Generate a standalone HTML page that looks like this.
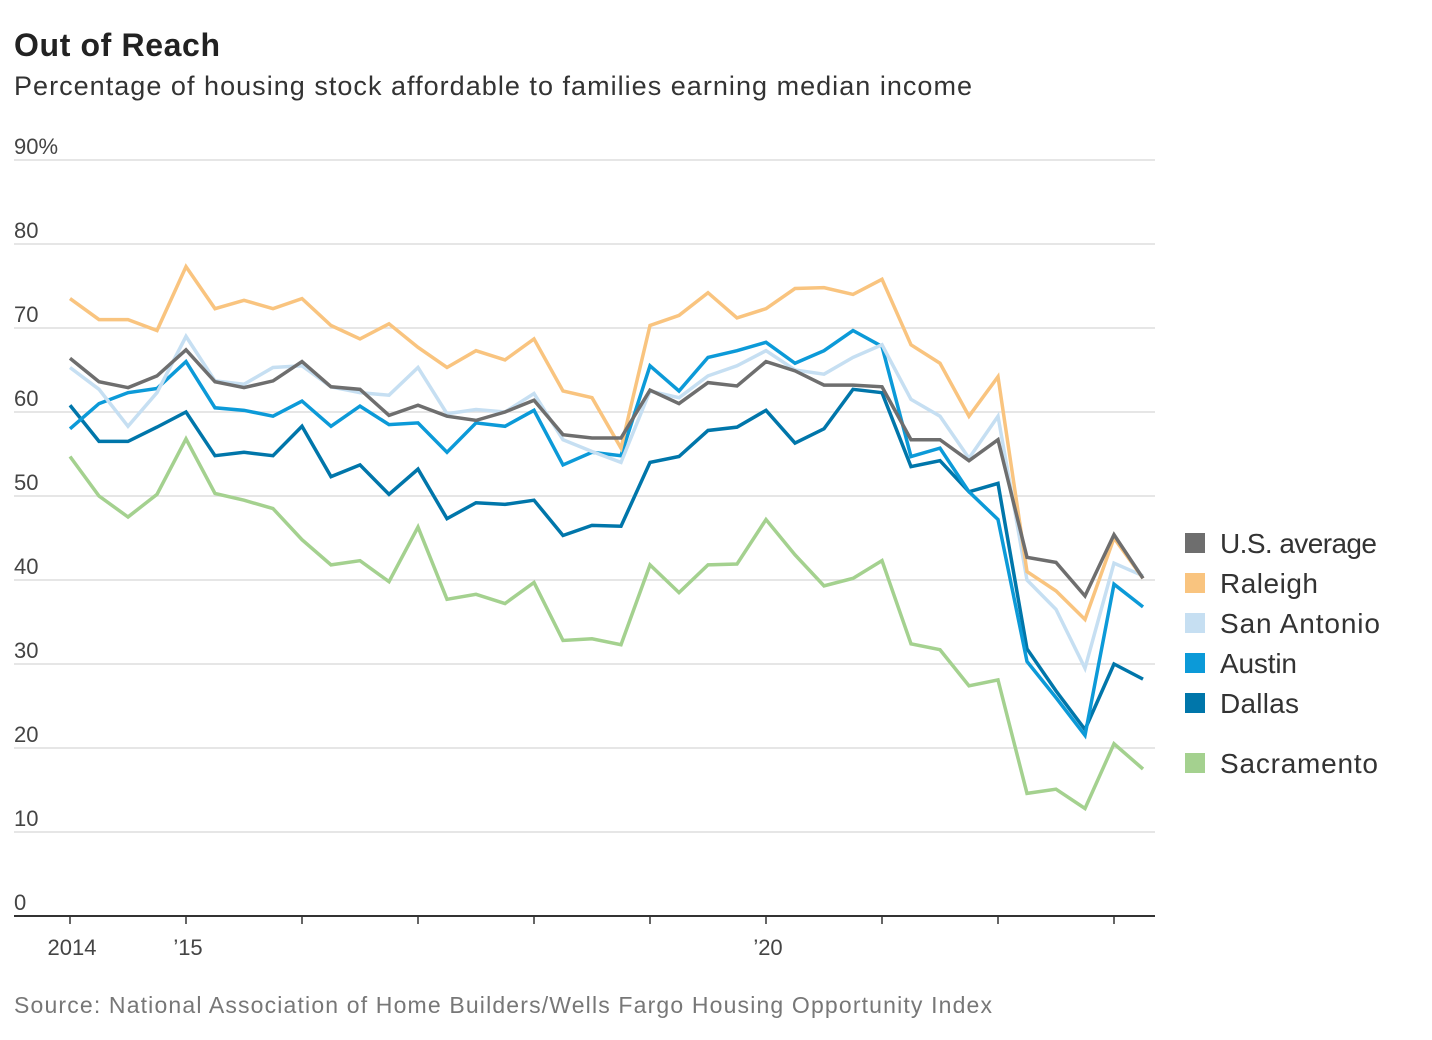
<!DOCTYPE html>
<html><head><meta charset="utf-8"><style>
body{margin:0;background:#fff;font-family:"Liberation Sans",sans-serif;}
svg{display:block}
</style></head><body>
<svg id="chart" width="1432" height="1040">
<text x="14" y="56" font-size="32" font-weight="bold" fill="#222" textLength="206">Out of Reach</text>
<text x="14" y="95" font-size="27" fill="#333" textLength="958">Percentage of housing stock affordable to families earning median income</text>
<text x="14" y="1013" font-size="23" fill="#777" textLength="978">Source: National Association of Home Builders/Wells Fargo Housing Opportunity Index</text>
<g id="grid"></g><g id="lines"></g><g id="legend"></g>
</svg>
<script>
const yTicks=[0,10,20,30,40,50,60,70,80,90];
const yTickLabels=["0","10","20","30","40","50","60","70","80","90%"];
const xTickYears=[0,1,2,3,4,5,6,7,8,9];
const xTickLabels=["2014","’15","","","","","’20","","",""];
const seriesNames=["Sacramento","Dallas","Austin","San Antonio","Raleigh","U.S. average"];
const usAvg=[66.4,63.6,62.9,64.3,67.4,63.6,62.9,63.7,66.0,63.0,62.7,59.6,60.8,59.5,59.0,60.0,61.4,57.3,56.9,56.9,62.6,61.0,63.5,63.1,66.0,64.9,63.2,63.2,63.0,56.7,56.7,54.2,56.7,42.7,42.1,38.1,45.4,40.2];
const raleigh=[73.5,71,71,69.7,77.3,72.3,73.3,72.3,73.5,70.3,68.7,70.5,67.7,65.3,67.3,66.2,68.7,62.5,61.7,55.7,70.3,71.5,74.2,71.2,72.3,74.7,74.8,74,75.8,68,65.8,59.5,64.2,41,38.7,35.3,45,40.2];
const sanAntonio=[65.3,62.7,58.3,62.3,69,63.7,63.3,65.3,65.5,63,62.3,62,65.3,59.8,60.3,60,62.2,56.7,55.3,54,62.5,61.7,64.3,65.5,67.3,65,64.5,66.5,68,61.5,59.5,54.5,59.5,40,36.5,29.5,42,40.5];
const austin=[58,61,62.3,62.8,66,60.5,60.2,59.5,61.3,58.3,60.7,58.5,58.7,55.2,58.7,58.3,60.2,53.7,55.2,54.8,65.5,62.5,66.5,67.3,68.3,65.8,67.3,69.7,67.8,54.7,55.7,50.5,47.2,30.3,26,21.5,39.5,36.8];
const dallas=[60.8,56.5,56.5,58.2,60,54.8,55.2,54.8,58.3,52.3,53.7,50.2,53.2,47.3,49.2,49,49.5,45.3,46.5,46.4,54,54.7,57.8,58.2,60.2,56.3,58,62.7,62.3,53.5,54.2,50.5,51.5,31.8,26.8,22.2,30,28.2];
const sacramento=[54.7,50,47.5,50.2,56.8,50.3,49.5,48.5,44.8,41.8,42.3,39.8,46.3,37.7,38.3,37.2,39.7,32.8,33,32.3,41.8,38.5,41.8,41.9,47.2,43,39.3,40.2,42.3,32.4,31.7,27.4,28.1,14.6,15.1,12.8,20.5,17.5];
const NS="http://www.w3.org/2000/svg";
const xq=i=>70+29*i;
const yv=v=>916-v*8.4;
function mk(t,a,p){const e=document.createElementNS(NS,t);for(const k in a)e.setAttribute(k,a[k]);p.appendChild(e);return e;}
const grid=document.getElementById('grid');
yTicks.forEach((t,i)=>{
  if(t>0){const l=mk('line',{x1:14,x2:1155,y1:yv(t),y2:yv(t),stroke:'#ddd','stroke-width':1.5},grid);
  
  }
  const tx=mk('text',{x:14,y:yv(t)-6,'font-size':22,fill:'#444'},grid);tx.textContent=yTickLabels[i];
  
  
});
const ax=mk('line',{x1:14,x2:1155,y1:916,y2:916,stroke:'#333','stroke-width':2},grid);


xTickYears.forEach((yr,i)=>{
  const x=xq(yr*4);
  const tk=mk('line',{x1:x,x2:x,y1:916,y2:924,stroke:'#333','stroke-width':1.5},grid);
  
  
  if(xTickLabels[i]){const t=mk('text',{x:x+2,y:955,'font-size':22,fill:'#444','text-anchor':'middle'},grid);t.textContent=xTickLabels[i];
  
  }
});
const data=[sacramento,dallas,austin,sanAntonio,raleigh,usAvg];
const colors=["#a4d18f","#0076aa","#0c9ad8","#c6dff2","#f9c47f","#6e6e6e"];
const lines=document.getElementById('lines');
data.forEach((s,k)=>{
  const p=mk('polyline',{points:s.map((v,i)=>xq(i)+','+yv(v)).join(' '),fill:'none',stroke:colors[k],'stroke-width':3.5,'stroke-linejoin':'miter'},lines);
  
  
});
const legendOrder=[5,4,3,2,1,0];const legendY=[543,583,623,663,703,763];
const legendW=[157,98,160,77,79,158];
const lg=document.getElementById('legend');
legendOrder.forEach((k,j)=>{
  const g=mk('g',{},lg);
  
  
  mk('rect',{x:1185,y:legendY[j]-10,width:20,height:20,fill:colors[k]},g);
  const t=mk('text',{x:1220,y:legendY[j]+10,'font-size':28,fill:'#333',textLength:legendW[j]},g);t.textContent=seriesNames[k];
});
</script>
</body></html>
